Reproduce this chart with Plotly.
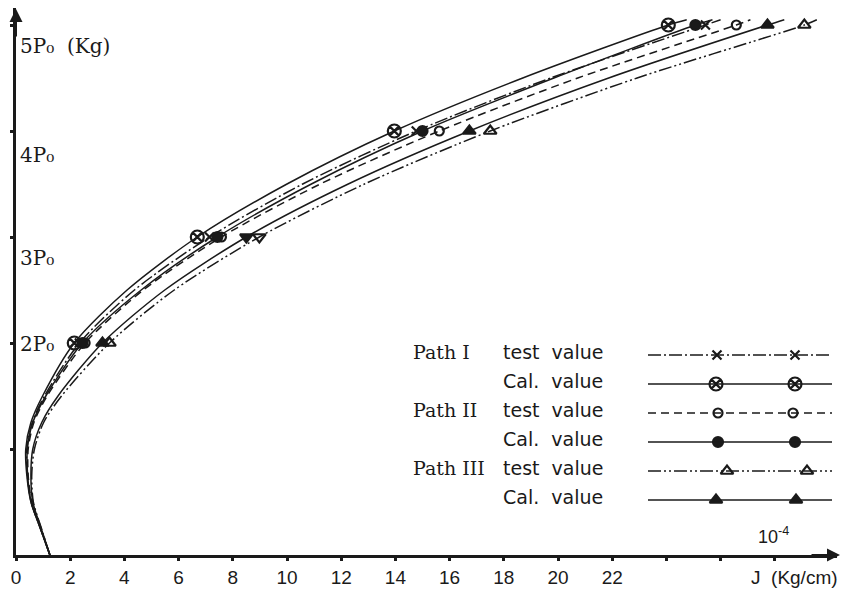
import plotly.graph_objects as go

# ---------------- data ----------------
p_curve = [0, 0.25, 0.5, 0.75, 1.0, 1.25, 1.5, 2.0, 2.5, 3.0, 3.5, 4.0, 4.5, 5.0, 5.05]
j_path1_cal = [1.25, 0.90, 0.55, 0.40, 0.36, 0.55, 0.98, 2.15, 4.10, 6.69, 10.00, 13.96, 18.70, 24.07, 24.75]
j_path1_test = [1.25, 0.90, 0.56, 0.42, 0.40, 0.60, 1.05, 2.34, 4.37, 7.14, 10.58, 14.77, 19.73, 25.44, 26.00]
j_path2_cal = [1.25, 0.90, 0.56, 0.43, 0.42, 0.62, 1.10, 2.45, 4.62, 7.43, 10.90, 15.00, 19.85, 25.07, 25.70]
j_path2_test = [1.25, 0.92, 0.58, 0.45, 0.45, 0.66, 1.15, 2.55, 4.70, 7.58, 11.23, 15.62, 20.73, 26.58, 27.10]
j_path3_cal = [1.25, 0.93, 0.62, 0.55, 0.62, 0.95, 1.55, 3.19, 5.49, 8.50, 12.26, 16.73, 21.87, 27.73, 28.35]
j_path3_test = [1.25, 0.94, 0.64, 0.58, 0.68, 1.02, 1.68, 3.45, 5.84, 8.98, 12.86, 17.50, 22.92, 29.09, 29.55]

p_marker = [2, 3, 4, 5]
mk_path1_cal = [2.15, 6.69, 13.96, 24.07]
mk_path1_test = [2.34, 7.14, 14.77, 25.44]
mk_path2_cal = [2.45, 7.43, 15.00, 25.07]
mk_path2_test = [2.55, 7.58, 15.62, 26.58]
mk_path3_cal = [3.19, 8.50, 16.73, 27.73]
mk_path3_test = [3.45, 8.98, 17.50, 29.09]

x_tickvals = [0, 2, 4, 6, 8, 10, 12, 14, 16, 18, 20, 22, 24, 26, 28]
x_ticktext = ["0", "2", "4", "6", "8", "10", "12", "14", "16", "18", "20", "22", "", "", ""]
y_tickvals = [1, 2, 3, 4, 5]
y_label_text = ["5P\u2080  (Kg)", "4P\u2080", "3P\u2080", "2P\u2080"]
y_label_pos = [4.80, 3.77, 2.80, 1.99]

legend_path = ["Path I", "", "Path II", "", "Path III", ""]
legend_kind = ["test\u00a0 value", "Cal.\u00a0 value", "test\u00a0 value", "Cal.\u00a0 value", "test\u00a0 value", "Cal.\u00a0 value"]

INK = "#1a1a1a"
DASH_I = "13px,3px,2px,3px"
DASH_II = "8px,5px"
DASH_III = "13px,3px,2px,3px,2px,3px"

series = [
    # name, curve, markers, dash, symbols, size
    ("Path I test value", j_path1_test, mk_path1_test, DASH_I, ["x-thin-open"] * 4, 9),
    ("Path I Cal. value", j_path1_cal, mk_path1_cal, "solid", ["circle-x-open"] * 4, 13),
    ("Path II test value", j_path2_test, mk_path2_test, DASH_II, ["circle-open"] * 4, 9),
    ("Path II Cal. value", j_path2_cal, mk_path2_cal, "solid", ["circle"] * 4, 10),
    ("Path III test value", j_path3_test, mk_path3_test, DASH_III,
     ["triangle-up-open", "triangle-down-open", "triangle-up-open", "triangle-up-open"], 11),
    ("Path III Cal. value", j_path3_cal, mk_path3_cal, "solid",
     ["triangle-up", "triangle-down", "triangle-up", "triangle-up"], 11),
]

fig = go.Figure()
for name, jc, mk, dash, syms, size in series:
    fig.add_trace(go.Scatter(x=jc, y=p_curve, mode="lines", name=name,
                             line=dict(color=INK, width=1.5, dash=dash, shape="spline", smoothing=0.8),
                             showlegend=False, hoverinfo="skip"))
    fig.add_trace(go.Scatter(x=mk, y=p_marker, mode="markers", name=name,
                             marker=dict(symbol=syms, size=size, color=INK,
                                         line=dict(color=INK, width=2.2)),
                             showlegend=False))

# ---------------- layout geometry ----------------
# the page body adds an 8px offset; the figure is sized so it fills the 851x595 window
OFF = 8
W, H = 851 - OFF, 595 - OFF
ML, MR, MT, MB = 16 - OFF, 14, 0, 40
PW, PH = W - ML - MR, H - MT - MB


def fx(px):
    """screen pixel x -> plot-area fraction"""
    return (px - OFF - ML) / PW


def fy(py):
    """screen pixel y -> plot-area fraction"""
    return (H - MB - (py - OFF)) / PH


shapes = []
annotations = []

# custom key (drawn like the original)
row_text_y = [352, 381, 410, 439, 468, 497]
leg_marker_x = [[717, 795], [716, 795], [718, 793], [718, 795], [727, 807], [716, 796]]
for i, (name, jc, mk, dash, syms, size) in enumerate(series):
    ly = row_text_y[i] + 3
    shapes.append(dict(type="line", xref="paper", yref="paper",
                       x0=fx(648), x1=fx(832), y0=fy(ly), y1=fy(ly),
                       line=dict(color=INK, width=1.5, dash=dash)))
    fig.add_trace(go.Scatter(x=[fx(v) for v in leg_marker_x[i]], y=[fy(ly), fy(ly)],
                             xaxis="x2", yaxis="y2", mode="markers",
                             marker=dict(symbol=syms[0], size=size, color=INK,
                                         line=dict(color=INK, width=2.2)),
                             showlegend=False, hoverinfo="skip"))
    if legend_path[i]:
        annotations.append(dict(text=legend_path[i], xref="paper", yref="paper",
                                x=fx(411), y=fy(row_text_y[i]), xanchor="left", yanchor="middle",
                                showarrow=False, font=dict(family="DejaVu Serif", size=19, color=INK)))
    annotations.append(dict(text=legend_kind[i], xref="paper", yref="paper",
                            x=fx(501), y=fy(row_text_y[i]), xanchor="left", yanchor="middle",
                            showarrow=False, font=dict(family="DejaVu Sans", size=19, color=INK)))

# y labels placed inside, like the original
for t, yv in zip(y_label_text, y_label_pos):
    annotations.append(dict(text=t, xref="paper", yref="y", x=fx(18), y=yv,
                            xanchor="left", yanchor="middle", showarrow=False,
                            font=dict(family="DejaVu Serif", size=20, color=INK)))

# axis title and unit
annotations.append(dict(text="J  (Kg/cm)", xref="paper", yref="paper", x=fx(840), y=fy(577),
                        xanchor="right", yanchor="middle", showarrow=False,
                        font=dict(family="Liberation Sans", size=19, color=INK)))
annotations.append(dict(text="10<sup>-4</sup>", xref="paper", yref="paper", x=fx(756), y=fy(535),
                        xanchor="left", yanchor="middle", showarrow=False,
                        font=dict(family="Liberation Sans", size=18, color=INK)))

# arrow heads on the axes
annotations.append(dict(x=fx(840), y=0, xref="paper", yref="paper", text="", showarrow=True,
                        ax=-30, ay=0, arrowhead=2, arrowsize=1.3, arrowwidth=2, arrowcolor=INK))
annotations.append(dict(x=0, y=1, xref="paper", yref="paper", text="", showarrow=True,
                        ax=0, ay=30, arrowhead=2, arrowsize=1.3, arrowwidth=2, arrowcolor=INK))

fig.update_layout(
    width=W, height=H,
    margin=dict(l=ML, r=MR, t=MT, b=MB, autoexpand=False),
    paper_bgcolor="white", plot_bgcolor="white",
    showlegend=False,
    shapes=shapes, annotations=annotations,
    xaxis=dict(range=[0, PW / 27.1], tickvals=x_tickvals, ticktext=x_ticktext, automargin=False,
               showgrid=False, zeroline=False, showline=True, linecolor=INK, linewidth=2.5,
               ticks="outside", ticklen=3, tickwidth=3, tickcolor=INK,
               tickfont=dict(family="Liberation Sans", size=19, color=INK)),
    yaxis=dict(range=[0, PH / 106.0], tickvals=y_tickvals, showticklabels=False, automargin=False,
               showgrid=False, zeroline=False, showline=True, linecolor=INK, linewidth=2.5,
               ticks="outside", ticklen=3, tickwidth=3, tickcolor=INK),
    xaxis2=dict(overlaying="x", range=[0, 1], visible=False),
    yaxis2=dict(overlaying="y", range=[0, 1], visible=False),
)

fig.write_html("out.html")
